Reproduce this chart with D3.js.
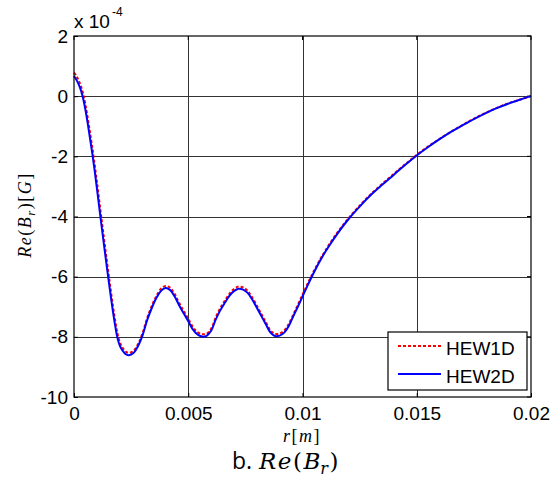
<!DOCTYPE html>
<html>
<head>
<meta charset="utf-8">
<script src="https://cdn.jsdelivr.net/npm/d3@7"></script>
<style>
  body { margin: 0; background: #fff; }
  svg { display: block; }
</style>
</head>
<body>
<div class="chart"></div>
<script>
// r positions [m]
const rValues = [
  0, 0.0001, 0.0002, 0.0003, 0.0004, 0.0005, 0.0006, 0.0007, 0.0008, 0.0009,
  0.001, 0.0011, 0.0012, 0.0013, 0.0014, 0.0015, 0.0016, 0.0017, 0.0018, 0.0019,
  0.002, 0.0021, 0.0022, 0.0023, 0.0024,
  0.0026, 0.0028, 0.003, 0.0032, 0.0034, 0.0036, 0.0038,
  0.004, 0.0042, 0.0044, 0.0046, 0.0048, 0.005, 0.0052, 0.0054, 0.0056, 0.0058,
  0.006, 0.0062, 0.0064, 0.0066, 0.0068, 0.007, 0.0072, 0.0074, 0.0076, 0.0078,
  0.008, 0.0082, 0.0084, 0.0086, 0.0088, 0.009, 0.0092, 0.0094, 0.0096, 0.0098,
  0.01, 0.0102, 0.0104, 0.0106, 0.0108, 0.011, 0.0115, 0.012, 0.0125, 0.013,
  0.0135, 0.014, 0.0145, 0.015, 0.0155, 0.016, 0.0165, 0.017, 0.0175, 0.018,
  0.0185, 0.019, 0.0195, 0.02
];

// Re(Br) in units of 1e-4 G
const hew1d = [
  0.78, 0.68, 0.53, 0.34, 0.08, -0.28, -0.72, -1.2, -1.7, -2.24,
  -2.83, -3.44, -4.05, -4.65, -5.25, -5.83, -6.4, -6.95, -7.45, -7.88,
  -8.16, -8.33, -8.44, -8.51, -8.53,
  -8.47, -8.24, -7.88, -7.38, -6.98, -6.65, -6.41,
  -6.31, -6.36, -6.57, -6.87, -7.14, -7.4, -7.67, -7.84, -7.91, -7.9,
  -7.73, -7.36, -7.05, -6.8, -6.57, -6.41, -6.33, -6.36, -6.47, -6.69,
  -6.96, -7.24, -7.52, -7.79, -7.9, -7.89, -7.79, -7.57, -7.25, -6.93,
  -6.6, -6.27, -5.96, -5.66, -5.39, -5.13, -4.56, -4.07, -3.64, -3.25,
  -2.91, -2.58, -2.26, -1.95, -1.67, -1.42, -1.18, -0.96, -0.75, -0.56,
  -0.39, -0.24, -0.12, 0
];

const hew2d = [
  0.67, 0.55, 0.4, 0.2, -0.08, -0.45, -0.9, -1.4, -1.9, -2.45,
  -3.05, -3.66, -4.27, -4.87, -5.46, -6.04, -6.6, -7.14, -7.62, -8.03,
  -8.28, -8.43, -8.53, -8.59, -8.61,
  -8.54, -8.31, -7.95, -7.45, -7.05, -6.72, -6.48,
  -6.38, -6.44, -6.65, -6.95, -7.22, -7.48, -7.75, -7.92, -7.99, -7.97,
  -7.8, -7.43, -7.12, -6.87, -6.64, -6.48, -6.4, -6.43, -6.54, -6.76,
  -7.03, -7.31, -7.59, -7.86, -7.97, -7.96, -7.86, -7.64, -7.31, -6.99,
  -6.66, -6.33, -6.01, -5.71, -5.43, -5.17, -4.6, -4.1, -3.67, -3.28,
  -2.94, -2.61, -2.28, -1.97, -1.69, -1.43, -1.19, -0.97, -0.76, -0.57,
  -0.4, -0.25, -0.12, 0
];

const xTicks = [0, 0.005, 0.01, 0.015, 0.02];
const xTickLabels = ["0", "0.005", "0.01", "0.015", "0.02"];
const yTicks = [-10, -8, -6, -4, -2, 0, 2];
const seriesNames = ["HEW1D", "HEW2D"];

const svgWidth = 560,
  svgHeight = 480,
  plotLeft = 74,
  plotRight = 531,
  plotTop = 36,
  plotBottom = 397,
  redColor = "#ff0000",
  blueColor = "#0000ff",
  sans = "'Liberation Sans', Arial, sans-serif",
  serif = "'Liberation Serif', 'Times New Roman', serif",
  tickFont = `19px ${sans}`;

const svg = d3
  .select(".chart")
  .append("svg")
  .attr("width", svgWidth)
  .attr("height", svgHeight);

const xScale = d3.scaleLinear().domain([0, 0.02]).range([plotLeft, plotRight]);
const yScale = d3.scaleLinear().domain([-10, 2]).range([plotBottom, plotTop]);

// grid
svg
  .append("g")
  .selectAll("line")
  .data(xTicks.slice(1, -1))
  .enter()
  .append("line")
  .attr("x1", (d) => Math.round(xScale(d)) + 0.5)
  .attr("x2", (d) => Math.round(xScale(d)) + 0.5)
  .attr("y1", plotTop)
  .attr("y2", plotBottom)
  .attr("stroke", "#333")
  .attr("stroke-width", 1);

svg
  .append("g")
  .selectAll("line")
  .data(yTicks.slice(1, -1))
  .enter()
  .append("line")
  .attr("x1", plotLeft)
  .attr("x2", plotRight)
  .attr("y1", (d) => Math.round(yScale(d)) + 0.5)
  .attr("y2", (d) => Math.round(yScale(d)) + 0.5)
  .attr("stroke", "#333")
  .attr("stroke-width", 1);

// axes (ticks point inward like matlab)
const xAxis = d3
  .axisBottom(xScale)
  .tickValues(xTicks)
  .tickFormat((d, i) => xTickLabels[i])
  .tickSize(-4)
  .tickPadding(10);

const yAxis = d3
  .axisLeft(yScale)
  .tickValues(yTicks)
  .tickFormat((d) => String(d))
  .tickSize(-4)
  .tickPadding(6);

const gx = svg
  .append("g")
  .attr("transform", `translate(0, ${plotBottom})`)
  .call(xAxis);
gx.select(".domain").remove();
gx.selectAll("text").style("font", tickFont).attr("fill", "#000");

const gy = svg
  .append("g")
  .attr("transform", `translate(${plotLeft}, 0)`)
  .call(yAxis);
gy.select(".domain").remove();
gy.selectAll("text").style("font", tickFont).attr("fill", "#000");

// ticks on top and right too
svg
  .append("g")
  .selectAll("line")
  .data(xTicks)
  .enter()
  .append("line")
  .attr("x1", (d) => xScale(d))
  .attr("x2", (d) => xScale(d))
  .attr("y1", plotTop)
  .attr("y2", plotTop + 4)
  .attr("stroke", "#000");

svg
  .append("g")
  .selectAll("line")
  .data(yTicks)
  .enter()
  .append("line")
  .attr("x1", plotRight - 4)
  .attr("x2", plotRight)
  .attr("y1", (d) => yScale(d))
  .attr("y2", (d) => yScale(d))
  .attr("stroke", "#000");

// series lines
const line = d3
  .line()
  .x((d) => xScale(d[0]))
  .y((d) => yScale(d[1]))
  .curve(d3.curveCatmullRom);

svg
  .append("path")
  .attr("d", line(d3.zip(rValues, hew1d)))
  .attr("fill", "none")
  .attr("stroke", redColor)
  .attr("stroke-width", 2)
  .attr("stroke-dasharray", "3,2");

svg
  .append("path")
  .attr("d", line(d3.zip(rValues, hew2d)))
  .attr("fill", "none")
  .attr("stroke", blueColor)
  .attr("stroke-width", 2);

// box
svg
  .append("rect")
  .attr("x", plotLeft)
  .attr("y", plotTop)
  .attr("width", plotRight - plotLeft)
  .attr("height", plotBottom - plotTop)
  .attr("fill", "none")
  .attr("stroke", "#000")
  .attr("stroke-width", 1.2);

// exponent label
const expo = svg
  .append("text")
  .attr("x", 74)
  .attr("y", 28)
  .style("font", tickFont)
  .attr("fill", "#000");
expo.append("tspan").text("x 10");
expo
  .append("tspan")
  .attr("x", 112)
  .attr("y", 16)
  .style("font-size", "12px")
  .text("-4");

// legend
const legend = svg.append("g").attr("transform", "translate(388, 332)");

legend
  .append("rect")
  .attr("width", 139)
  .attr("height", 58)
  .attr("fill", "#fff")
  .attr("stroke", "#000")
  .attr("stroke-width", 1.2);

const legendRows = legend
  .selectAll("g")
  .data(seriesNames)
  .enter()
  .append("g")
  .attr("transform", (d, i) => `translate(0, ${14 + i * 28})`);

legendRows
  .append("line")
  .attr("x1", 10)
  .attr("x2", 53)
  .attr("stroke", (d, i) => (i === 0 ? redColor : blueColor))
  .attr("stroke-width", 2)
  .attr("stroke-dasharray", (d, i) => (i === 0 ? "3,2" : null));

legendRows
  .append("text")
  .attr("x", 58)
  .attr("y", 9)
  .text((d) => d)
  .style("font", tickFont)
  .attr("fill", "#000");

// axis labels
const yLabel = svg
  .append("text")
  .attr("transform", "translate(31, 215) rotate(-90)")
  .attr("text-anchor", "middle")
  .style("font-family", serif)
  .style("font-size", "18px")
  .style("letter-spacing", "1.5px")
  .attr("fill", "#000");
yLabel.append("tspan").style("font-style", "italic").text("Re");
yLabel.append("tspan").text("(");
yLabel.append("tspan").style("font-style", "italic").text("B");
yLabel
  .append("tspan")
  .style("font-style", "italic")
  .style("font-size", "13px")
  .attr("dy", 4)
  .text("r");
yLabel.append("tspan").attr("dy", -4).text(")[");
yLabel.append("tspan").style("font-style", "italic").text("G");
yLabel.append("tspan").text("]");

const xLabel = svg
  .append("text")
  .attr("x", 302)
  .attr("y", 442)
  .attr("text-anchor", "middle")
  .style("font-family", serif)
  .style("font-size", "18px")
  .style("letter-spacing", "1.5px")
  .attr("fill", "#000");
xLabel.append("tspan").style("font-style", "italic").text("r");
xLabel.append("tspan").text("[");
xLabel.append("tspan").style("font-style", "italic").text("m");
xLabel.append("tspan").text("]");

const mathFont = "'DejaVu Serif', serif";
const title = svg
  .append("text")
  .attr("x", 232)
  .attr("y", 469)
  .style("font-size", "23px")
  .attr("fill", "#000");
title
  .append("tspan")
  .style("font-family", "'Open Sans', 'Liberation Sans', sans-serif")
  .text("b.");
title
  .append("tspan")
  .attr("x", 259)
  .style("font-family", mathFont)
  .style("font-style", "italic")
  .style("letter-spacing", "1.5px")
  .text("Re");
title
  .append("tspan")
  .style("font-family", mathFont)
  .style("letter-spacing", "1.5px")
  .text("(");
title
  .append("tspan")
  .style("font-family", mathFont)
  .style("font-style", "italic")
  .text("B");
title
  .append("tspan")
  .style("font-family", mathFont)
  .style("font-style", "italic")
  .style("font-size", "16px")
  .style("letter-spacing", "1.5px")
  .attr("dy", 5)
  .text("r");
title
  .append("tspan")
  .style("font-family", mathFont)
  .attr("dy", -5)
  .text(")");
</script>
</body>
</html>
